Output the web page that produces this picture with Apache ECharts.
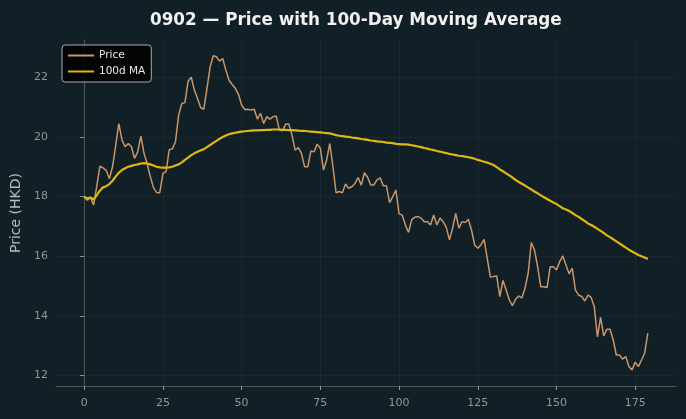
<!DOCTYPE html>
<html>
<head>
<meta charset="utf-8">
<script src="https://cdn.jsdelivr.net/npm/echarts@6/dist/echarts.min.js"></script>
<style>
  html, body { margin: 0; padding: 0; background: #111f26; }
  #chart { width: 686px; height: 419px; }
</style>
</head>
<body>
<div id="chart"></div>
<script>
// daily closing price (HKD), day index 0..179
var price = [
  17.98, 17.88, 17.97, 17.72, 18.35, 19.02, 18.96, 18.88, 18.60, 19.00,
  19.70, 20.45, 19.90, 19.67, 19.78, 19.67, 19.28, 19.50, 20.03, 19.45,
  19.10, 18.67, 18.30, 18.14, 18.13, 18.78, 18.84, 19.57, 19.60, 19.84,
  20.73, 21.12, 21.15, 21.87, 22.00, 21.57, 21.29, 20.98, 20.93, 21.63,
  22.35, 22.72, 22.69, 22.54, 22.63, 22.24, 21.90, 21.76, 21.63, 21.43,
  21.07, 20.92, 20.93, 20.90, 20.93, 20.60, 20.79, 20.45, 20.68, 20.60,
  20.68, 20.70, 20.23, 20.21, 20.43, 20.43, 20.06, 19.56, 19.64, 19.45,
  19.00, 19.00, 19.53, 19.50, 19.76, 19.62, 18.89, 19.23, 19.78, 19.00,
  18.13, 18.17, 18.13, 18.42, 18.28, 18.33, 18.44, 18.64, 18.38, 18.80,
  18.65, 18.39, 18.39, 18.56, 18.63, 18.36, 18.36, 17.80, 18.00, 18.22,
  17.42, 17.38, 17.05, 16.80, 17.22, 17.31, 17.33, 17.28, 17.16, 17.16,
  17.05, 17.38, 17.05, 17.28, 17.16, 16.97, 16.55, 16.94, 17.44, 16.94,
  17.16, 17.13, 17.24, 16.88, 16.38, 16.27, 16.38, 16.57, 15.93, 15.30,
  15.32, 15.34, 14.65, 15.19, 14.87, 14.54, 14.34, 14.56, 14.67, 14.60,
  14.93, 15.43, 16.46, 16.21, 15.65, 14.98, 14.98, 14.95, 15.65, 15.65,
  15.54, 15.82, 16.01, 15.71, 15.41, 15.60, 14.87, 14.70, 14.65, 14.50,
  14.70, 14.62, 14.31, 13.30, 13.95, 13.33, 13.55, 13.55, 13.20, 12.69,
  12.69, 12.55, 12.64, 12.30, 12.19, 12.45, 12.30, 12.52, 12.75, 13.42
];

// 100-day moving average as drawn
var ma100 = [
  18.00, 17.94, 17.97, 17.90, 18.05, 18.20, 18.31, 18.35, 18.42, 18.53,
  18.67, 18.80, 18.89, 18.95, 19.00, 19.03, 19.06, 19.08, 19.11, 19.12,
  19.11, 19.08, 19.04, 19.00, 18.98, 18.97, 18.97, 18.98, 19.00, 19.04,
  19.08, 19.15, 19.23, 19.31, 19.39, 19.45, 19.50, 19.55, 19.59, 19.66,
  19.73, 19.80, 19.87, 19.94, 20.00, 20.05, 20.09, 20.12, 20.14, 20.16,
  20.18, 20.19, 20.20, 20.21, 20.22, 20.22, 20.23, 20.23, 20.24, 20.24,
  20.25, 20.25, 20.25, 20.24, 20.24, 20.23, 20.23, 20.22, 20.21, 20.20,
  20.20, 20.19, 20.18, 20.17, 20.16, 20.15, 20.14, 20.13, 20.12, 20.09,
  20.06, 20.04, 20.03, 20.01, 20.00, 19.98, 19.97, 19.95, 19.93, 19.92,
  19.90, 19.88, 19.87, 19.85, 19.84, 19.83, 19.81, 19.80, 19.79, 19.77,
  19.76, 19.75, 19.75, 19.74, 19.72, 19.70, 19.68, 19.66, 19.63, 19.61,
  19.58, 19.56, 19.53, 19.51, 19.48, 19.46, 19.43, 19.41, 19.39, 19.37,
  19.36, 19.34, 19.32, 19.30, 19.27, 19.23, 19.20, 19.17, 19.14, 19.10,
  19.06, 18.99, 18.91, 18.85, 18.78, 18.71, 18.64, 18.56, 18.49, 18.43,
  18.37, 18.30, 18.24, 18.17, 18.11, 18.04, 17.98, 17.92, 17.86, 17.80,
  17.75, 17.68, 17.61, 17.57, 17.52, 17.45, 17.38, 17.32, 17.25, 17.18,
  17.10, 17.05, 16.99, 16.92, 16.85, 16.78, 16.70, 16.64, 16.57, 16.50,
  16.43, 16.36, 16.29, 16.22, 16.16, 16.10, 16.04, 16.00, 15.96, 15.91
];

var xTicks = [0, 25, 50, 75, 100, 125, 150, 175];
var yTicks = [12, 14, 16, 18, 20, 22];

var chart = echarts.init(document.getElementById('chart'));

function pairs(arr) {
  return arr.map(function (v, i) { return [i, v]; });
}

var axisGrey = '#8c969b';
var gridColor = 'rgba(255,255,255,0.045)';

var option = {
  backgroundColor: '#111f26',
  animation: false,
  title: {
    text: '0902 — Price with 100-Day Moving Average',
    left: 145,
    top: 7,
    textStyle: {
      color: '#f0f0f0',
      fontFamily: 'DejaVu Sans',
      fontWeight: 'bold',
      fontSize: 16.8
    }
  },
  legend: {
    orient: 'vertical',
    left: 62,
    top: 45,
    padding: [5, 6, 5, 6],
    itemGap: 5,
    itemWidth: 26,
    itemHeight: 2,
    backgroundColor: 'rgba(0,0,0,0.85)',
    borderColor: '#a9adb0',
    borderWidth: 1,
    borderRadius: 3,
    textStyle: { color: '#e8e8e8', fontFamily: 'DejaVu Sans', fontSize: 10.5, padding: [0, 0, 0, 0] },
    data: [
      { name: 'Price', icon: 'rect' },
      { name: '100d MA', icon: 'rect' }
    ]
  },
  grid: {
    left: 56,
    right: 10,
    top: 40,
    bottom: 33,
    containLabel: false
  },
  xAxis: {
    type: 'value',
    min: -8.95,
    max: 187.95,
    axisLine: { show: true, onZero: false, lineStyle: { color: '#4c565b', width: 1 } },
    axisTick: { show: true, length: 4, customValues: xTicks, lineStyle: { color: axisGrey } },
    axisLabel: { customValues: xTicks, color: axisGrey, fontFamily: 'DejaVu Sans', fontSize: 11, margin: 12 },
    splitLine: { show: true, lineStyle: { color: gridColor, width: 1 } }
  },
  yAxis: {
    type: 'value',
    min: 11.65,
    max: 23.25,
    name: 'Price (HKD)',
    nameLocation: 'middle',
    nameGap: 32,
    nameTextStyle: { color: '#b3bcc0', fontFamily: 'DejaVu Sans', fontSize: 14 },
    axisLine: { show: true, lineStyle: { color: '#4c565b', width: 1 } },
    axisTick: { show: true, length: 4, customValues: yTicks, lineStyle: { color: axisGrey } },
    axisLabel: { customValues: yTicks, color: axisGrey, fontFamily: 'DejaVu Sans', fontSize: 11, margin: 8 },
    splitLine: { show: true, lineStyle: { color: gridColor, width: 1 } }
  },
  series: [
    {
      name: 'Price',
      type: 'line',
      data: pairs(price),
      showSymbol: false,
      symbol: 'none',
      color: '#c8966a',
      lineStyle: { color: '#c8966a', width: 1.5 },
      z: 2
    },
    {
      name: '100d MA',
      type: 'line',
      data: pairs(ma100),
      showSymbol: false,
      symbol: 'none',
      color: '#e0b616',
      lineStyle: { color: '#e0b616', width: 2.2 },
      z: 3
    }
  ]
};

chart.setOption(option);
</script>
</body>
</html>
